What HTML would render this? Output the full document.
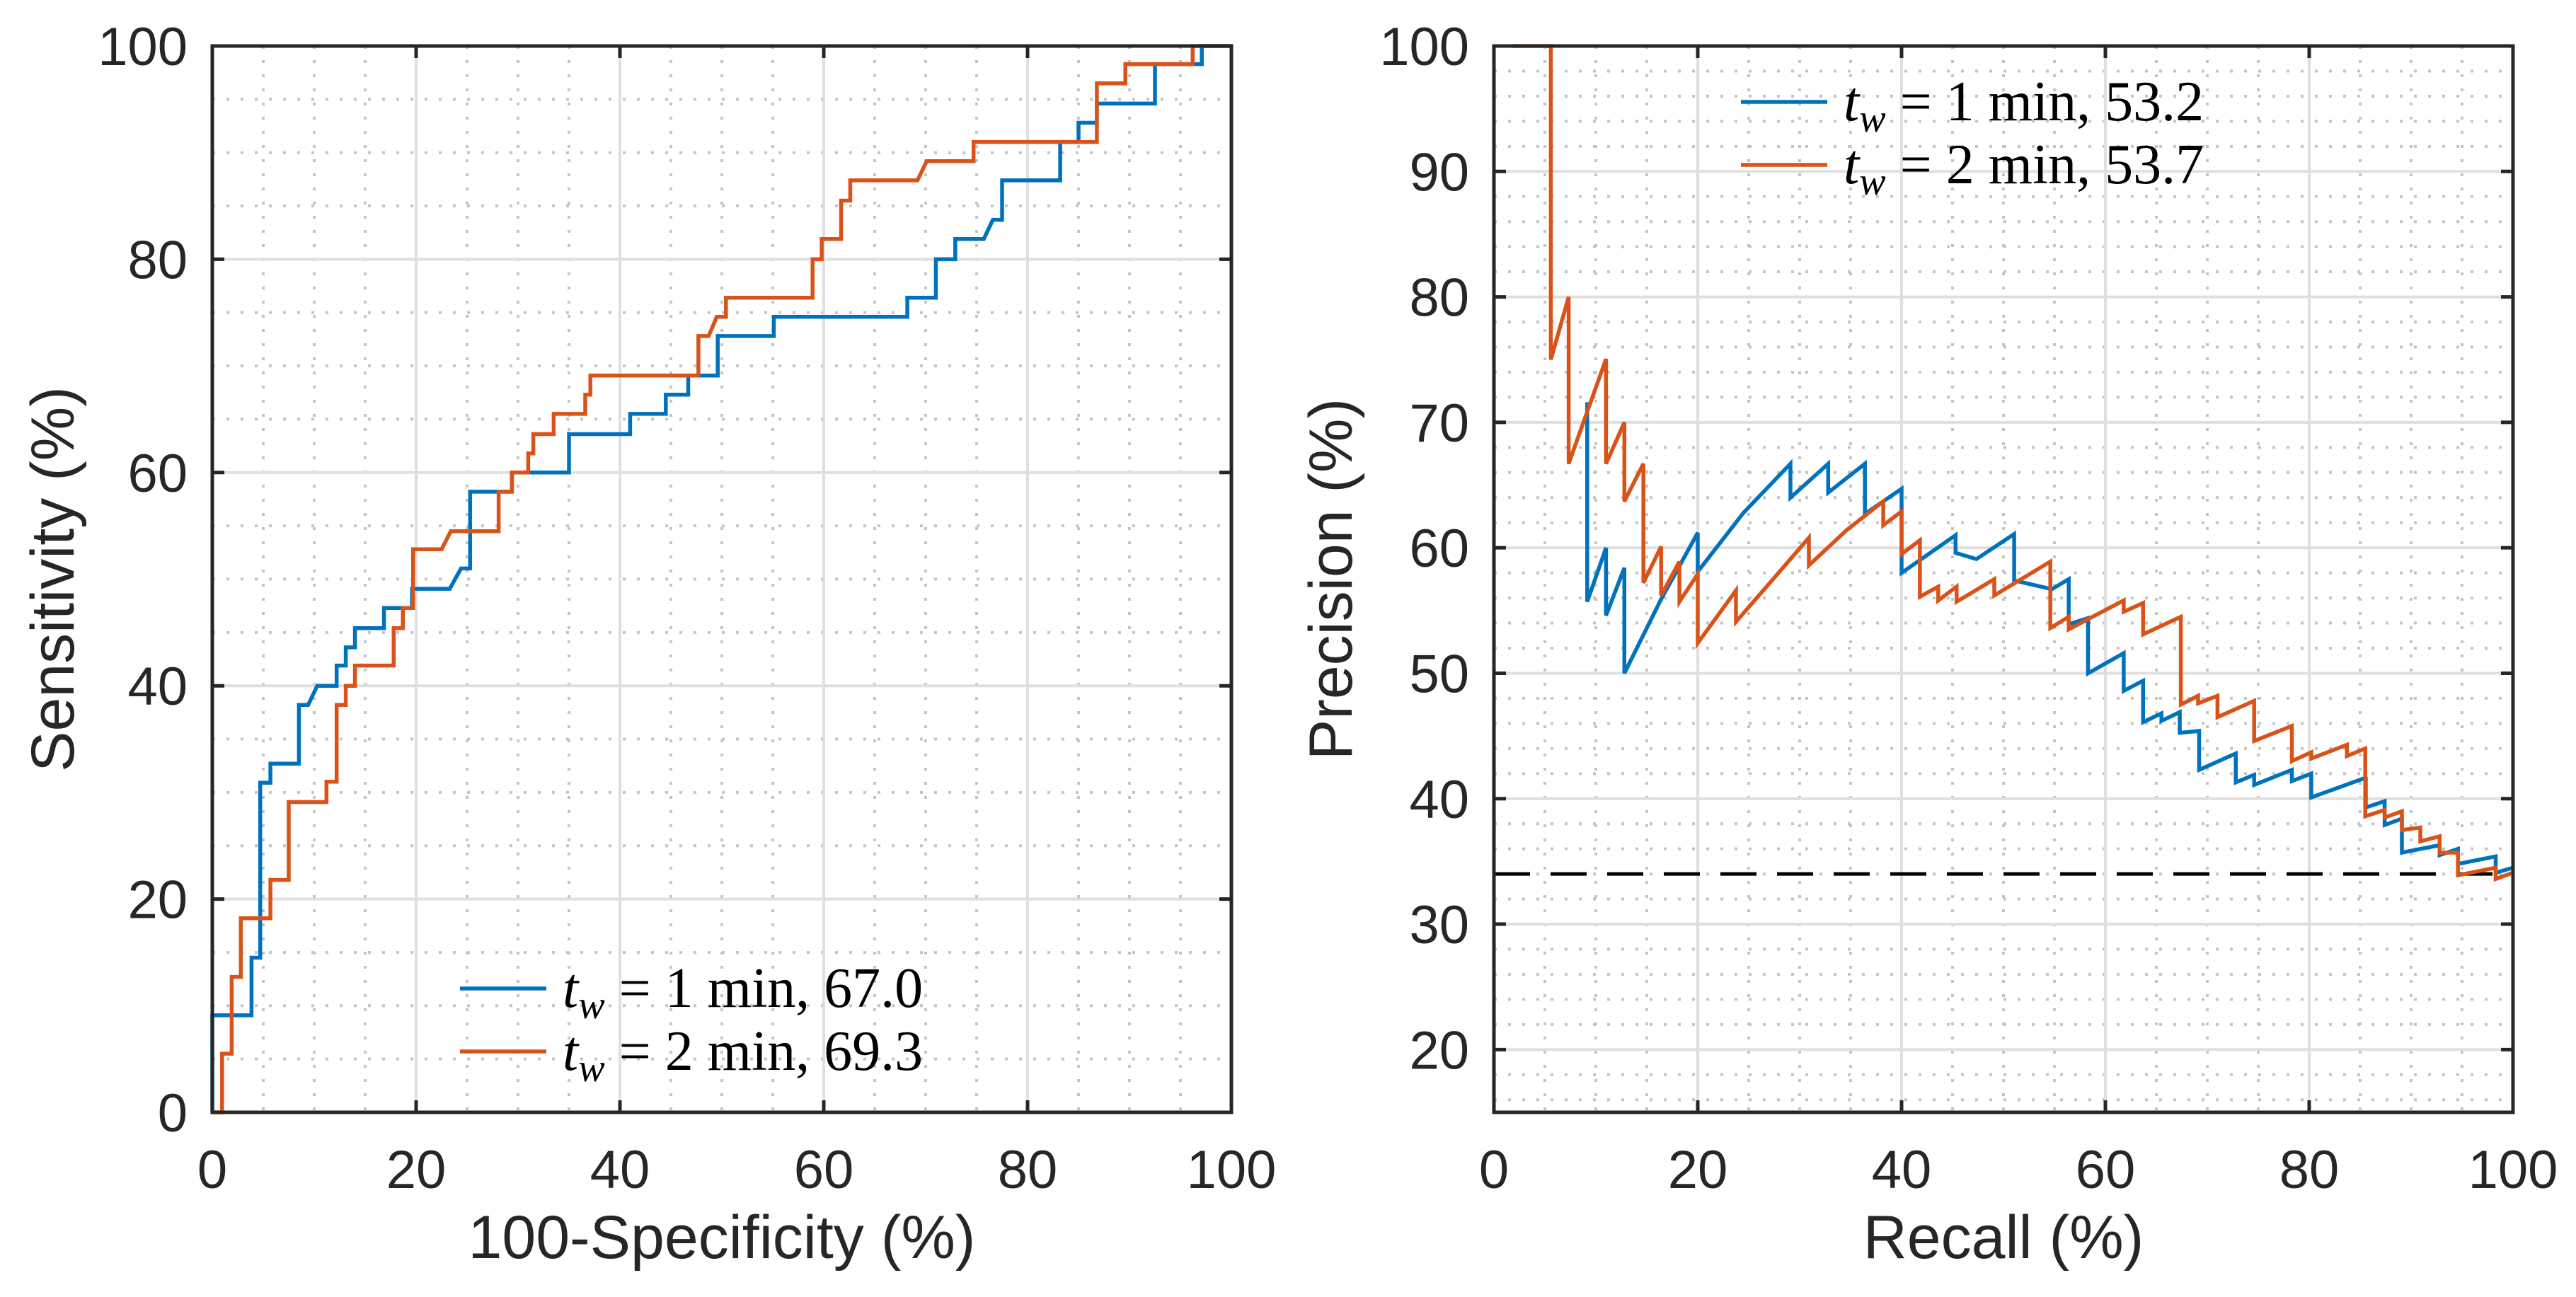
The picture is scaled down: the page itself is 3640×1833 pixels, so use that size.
<!DOCTYPE html>
<html><head><meta charset="utf-8"><style>
html,body{margin:0;padding:0;background:#fff;}
svg{display:block;}
text{font-family:"Liberation Sans",sans-serif;fill:#262626;}
.lg{font-family:"Liberation Serif",serif;fill:#000;}
</style></head><body>
<svg id="fig" xmlns="http://www.w3.org/2000/svg" width="3640" height="1833" viewBox="0 0 3640 1833">
<g id="roc"></g>
<g id="pr"></g>
</svg>
<script>
// ROC data
const rocBlueX = [0,0,3.85,3.85,4.7,4.7,5.7,5.7,8.5,8.5,9.4,10.3,12.2,12.2,13.1,13.1,14.0,14.0,16.85,16.85,19.6,19.6,23.3,24.4,25.3,25.3,29.4,29.4,35,35,41,41,44.5,44.5,46.7,46.7,49.6,49.6,55.1,55.1,68.2,68.2,71.0,71.0,72.9,72.9,75.7,76.6,77.5,77.5,83.2,83.2,85.0,85.0,86.8,86.8,92.5,92.5,97.1,97.1,100];
const rocBlueY = [0,9.1,9.1,14.5,14.5,30.9,30.9,32.7,32.7,38.2,38.2,40,40,41.9,41.9,43.6,43.6,45.4,45.4,47.3,47.3,49.1,49.1,51,51,58.2,58.2,60,60,63.6,63.6,65.5,65.5,67.3,67.3,69.1,69.1,72.8,72.8,74.6,74.6,76.4,76.4,80,80,81.9,81.9,83.7,83.7,87.4,87.4,91.0,91.0,92.8,92.8,94.6,94.6,98.3,98.3,100,100];
const rocOrangeX = [0,0.96,0.96,1.9,1.9,2.8,2.8,5.7,5.7,7.5,7.5,11.2,11.2,12.2,12.2,13.1,13.1,14.0,14.0,17.8,17.8,18.7,18.7,19.7,19.7,22.5,23.4,28.1,28.1,29.4,29.4,31,31,31.5,31.5,33.5,33.5,36.6,36.6,37.1,37.1,47.7,47.7,48.7,49.5,50.4,50.4,58.9,58.9,59.8,59.8,61.7,61.7,62.6,62.6,69.2,70.1,74.7,74.7,86.8,86.8,89.6,89.6,96.2,96.2,100];
const rocOrangeY = [0,0,5.5,5.5,12.7,12.7,18.2,18.2,21.8,21.8,29.1,29.1,31.0,31.0,38.2,38.2,40,40,41.9,41.9,45.4,45.4,47.3,47.3,52.8,52.8,54.5,54.5,58.2,58.2,60,60,61.8,61.8,63.6,63.6,65.5,65.5,67.3,67.3,69.1,69.1,72.8,72.8,74.6,74.6,76.4,76.4,80,80,81.9,81.9,85.5,85.5,87.4,87.4,89.2,89.2,91.0,91.0,96.5,96.5,98.3,98.3,100,100];
// PR data
const prBlueX = [9.15,9.15,11.0,11.0,12.8,12.8,16.4,20.0,20.0,24.5,29.1,29.1,32.8,32.8,36.4,36.4,40.0,40.0,45.3,45.3,47.35,51.05,51.05,54.75,56.4,56.4,58.3,58.3,61.8,61.8,63.7,63.7,65.5,65.5,67.3,67.3,69.2,69.2,72.8,72.8,74.6,74.6,78.3,78.3,80.2,80.2,85.3,85.55,85.55,87.4,87.4,89.1,89.1,92.8,92.8,94.6,94.6,98.3,98.3,100];
const prBlueY = [71.6,55.7,60.0,54.6,58.4,50.0,55.9,61.2,58.1,62.8,66.7,64.0,66.7,64.4,66.7,62.7,64.7,58.0,61.0,59.6,59.1,61.1,57.4,56.7,57.5,53.9,54.4,50.0,51.6,48.6,49.4,46.1,46.8,46.2,46.9,45.25,45.4,42.3,43.6,41.3,41.9,41.1,42.3,41.4,42.0,40.1,41.6,41.6,39.3,39.8,37.9,38.4,35.7,36.3,35.5,36.0,34.8,35.4,34.1,34.5];
const prOrangeX = [1.85,5.58,5.58,7.33,7.33,11.0,11.0,12.8,12.8,14.67,14.67,16.4,16.4,18.2,18.2,20.0,20.0,23.75,23.75,27.5,30.9,30.9,34.6,38.2,38.2,40.0,40.0,41.8,41.8,43.6,43.6,45.4,45.4,49.1,49.1,54.6,54.6,56.4,56.4,61.8,61.8,63.7,63.7,67.4,67.4,69.1,69.1,71.0,71.0,74.6,74.6,78.3,78.3,80.2,80.2,83.7,83.7,85.5,85.5,87.4,87.4,89.1,89.1,90.9,90.9,92.8,92.8,94.6,94.6,98.3,98.3,100];
const prOrangeY = [100,100,75.0,80.0,66.7,75.05,66.7,70.0,63.7,66.7,57.2,60.1,56.2,58.9,55.7,57.9,52.4,56.6,54.1,57.6,60.8,58.6,61.4,63.7,61.8,62.9,59.5,60.6,56.1,56.9,55.8,56.9,55.7,57.5,56.2,58.9,53.6,54.5,53.5,55.8,54.9,55.6,53.1,54.5,47.5,48.2,47.6,48.2,46.5,47.8,44.6,45.8,43.0,43.7,43.2,44.3,43.4,44.0,38.6,39.1,38.5,39.0,37.5,37.7,36.6,37.0,35.7,35.7,33.9,34.5,33.6,34.1];
const rocTicks = [0,20,40,60,80,100];
const prXTicks = [0,20,40,60,80,100];
const prYTicks = [20,30,40,50,60,70,80,90,100];
const chanceLevel = [34.0];
const rocLegend = ["1 min, 67.0","2 min, 69.3"];
const prLegend = ["1 min, 53.2","2 min, 53.7"];

const NS = "http://www.w3.org/2000/svg";
const BLUE = "#0072BD", ORANGE = "#D95319";
function mk(tag, attrs, parent){const e=document.createElementNS(NS,tag);for(const k in attrs)e.setAttribute(k,attrs[k]);parent.appendChild(e);return e;}

function drawAxes(g, box, xmin, xmax, ymin, ymax, xminor, yminor, xticks, yticks, prefix){
  const sx = v => box.x0 + (v - xmin) / (xmax - xmin) * (box.x1 - box.x0);
  const sy = v => box.y1 - (v - ymin) / (ymax - ymin) * (box.y1 - box.y0);
  for (let v = xmin; v <= xmax + 1e-9; v += xminor) {
    if (xticks.includes(Math.round(v))) continue;
    const l = mk("line", {x1:sx(v), x2:sx(v), y1:box.y0, y2:box.y1, stroke:"#c4c4c4", "stroke-width":4, "stroke-dasharray":"4 16"}, g);
    
    
  }
  for (let v = Math.ceil(ymin / yminor) * yminor; v <= ymax + 1e-9; v += yminor) {
    if (yticks.includes(Math.round(v))) continue;
    const l = mk("line", {x1:box.x0, x2:box.x1, y1:sy(v), y2:sy(v), stroke:"#c4c4c4", "stroke-width":4, "stroke-dasharray":"4 16"}, g);
    
    
  }
  xticks.forEach(v => {
    const l = mk("line", {x1:sx(v), x2:sx(v), y1:box.y0, y2:box.y1, stroke:"#dfdfdf", "stroke-width":4}, g);
    
    
  });
  yticks.forEach(v => {
    const l = mk("line", {x1:box.x0, x2:box.x1, y1:sy(v), y2:sy(v), stroke:"#dfdfdf", "stroke-width":4}, g);
    
    
  });
  return {sx, sy};
}

function drawFrame(g, box, sx, sy, xticks, yticks, xlabel, ylabel, ylabX, prefix){
  const f = mk("rect", {x:box.x0, y:box.y0, width:box.x1-box.x0, height:box.y1-box.y0, fill:"none", stroke:"#262626", "stroke-width":5}, g);
  
  
  xticks.forEach(v => {
    const x = sx(v);
    const t1 = mk("line", {x1:x, x2:x, y1:box.y1, y2:box.y1-17, stroke:"#262626", "stroke-width":5}, g);
    
    
    const t2 = mk("line", {x1:x, x2:x, y1:box.y0, y2:box.y0+17, stroke:"#262626", "stroke-width":5}, g);
    
    
    const tx = mk("text", {x:x, y:box.y1+107, "text-anchor":"middle", "font-size":76}, g);
    tx.textContent = v;
    
    
  });
  yticks.forEach(v => {
    const y = sy(v);
    const t1 = mk("line", {x1:box.x0, x2:box.x0+17, y1:y, y2:y, stroke:"#262626", "stroke-width":5}, g);
    
    
    const t2 = mk("line", {x1:box.x1, x2:box.x1-17, y1:y, y2:y, stroke:"#262626", "stroke-width":5}, g);
    
    
    const tx = mk("text", {x:box.x0-35, y:y+27, "text-anchor":"end", "font-size":76}, g);
    tx.textContent = v;
    
    
  });
  const xl = mk("text", {x:(box.x0+box.x1)/2, y:1778, "text-anchor":"middle", "font-size":86}, g);
  xl.textContent = xlabel;
  
  
  const cy = (box.y0+box.y1)/2;
  const yl = mk("text", {x:ylabX, y:cy, "text-anchor":"middle", "font-size":86, transform:`rotate(-90 ${ylabX} ${cy})`}, g);
  yl.textContent = ylabel;
  
  
}

function drawLine(g, xs, ys, sx, sy, color, name){
  const pts = xs.map((x,i) => sx(x).toFixed(1)+","+sy(ys[i]).toFixed(1)).join(" ");
  const p = mk("polyline", {points:pts, fill:"none", stroke:color, "stroke-width":5.5, "stroke-linejoin":"miter"}, g);
  
  
}

function drawLegend(g, x, y0, labels, prefix){
  [BLUE, ORANGE].forEach((c, i) => {
    const y = y0 + i*89;
    const en = mk("g", {}, g);
    
    
    mk("line", {x1:x, x2:x+122, y1:y, y2:y, stroke:c, "stroke-width":5.5}, en);
    const t = mk("text", {x:x+145, y:y+26, "font-size":80, class:"lg"}, en);
    const a = mk("tspan", {"font-style":"italic"}, t); a.textContent = "t";
    const b = mk("tspan", {"font-style":"italic", "font-size":56, dy:16}, t); b.textContent = "w";
    const r = mk("tspan", {dy:-16}, t); r.textContent = " = " + labels[i];
    
    
  });
}

(function(){
  const g = document.getElementById("roc");
  const box = {x0:300, x1:1740, y0:65, y1:1572};
  const {sx, sy} = drawAxes(g, box, 0, 100, 0, 100, 5, 5, rocTicks, rocTicks, "roc");
  drawLine(g, rocBlueX, rocBlueY, sx, sy, BLUE, "roc-curve-tw1");
  drawLine(g, rocOrangeX, rocOrangeY, sx, sy, ORANGE, "roc-curve-tw2");
  drawFrame(g, box, sx, sy, rocTicks, rocTicks, "100-Specificity (%)", "Sensitivity (%)", 104, "roc");
  drawLegend(g, 650, 1397, rocLegend, "roc");
})();

(function(){
  const g = document.getElementById("pr");
  const box = {x0:2111, x1:3551, y0:65, y1:1572};
  const {sx, sy} = drawAxes(g, box, 0, 100, 15, 100, 5, 2, prXTicks, prYTicks, "pr");
  chanceLevel.forEach(v => {
    const l = mk("line", {x1:box.x0, x2:box.x1, y1:sy(v), y2:sy(v), stroke:"#000", "stroke-width":5, "stroke-dasharray":"51 29"}, g);
    
    
  });
  drawLine(g, prBlueX, prBlueY, sx, sy, BLUE, "pr-curve-tw1");
  drawLine(g, prOrangeX, prOrangeY, sx, sy, ORANGE, "pr-curve-tw2");
  drawFrame(g, box, sx, sy, prXTicks, prYTicks, "Recall (%)", "Precision (%)", 1910, "pr");
  drawLegend(g, 2460, 144, prLegend, "pr");
})();
</script>
</body></html>
